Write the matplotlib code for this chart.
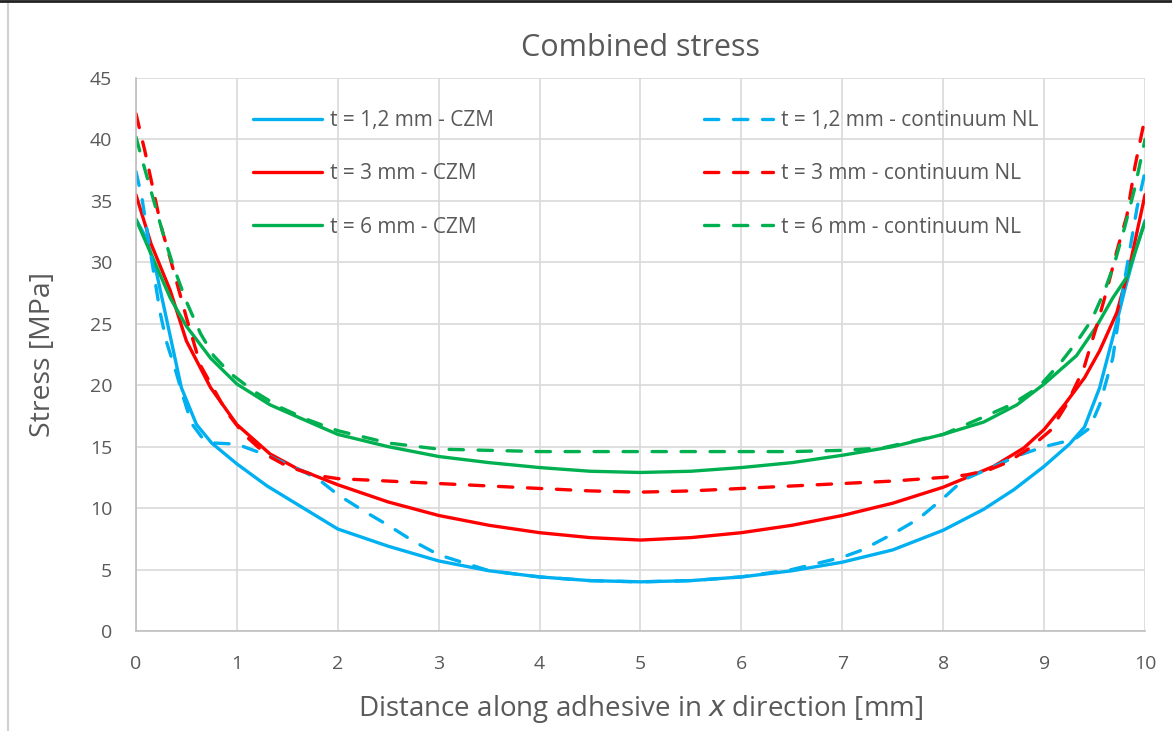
import matplotlib.pyplot as plt
from matplotlib.lines import Line2D

# Data (x in mm, stress in MPa)
x_b_czm = [0, 0.1, 0.2, 0.3, 0.45, 0.6, 0.75, 1.0, 1.3, 1.6, 2.0, 2.5, 3.0, 3.5, 4.0, 4.5, 5.0,
           5.5, 6.0, 6.5, 7.0, 7.5, 8.0, 8.4, 8.7, 9.0, 9.25, 9.4, 9.55, 9.7, 9.8, 9.9, 10]
y_b_czm = [33.5, 32.0, 29.3, 25.5, 19.8, 16.8, 15.3, 13.6, 11.8, 10.3, 8.3, 6.9, 5.7, 4.9, 4.4, 4.1, 4.0,
           4.1, 4.4, 4.9, 5.6, 6.6, 8.2, 9.9, 11.5, 13.4, 15.2, 16.6, 19.8, 24.5, 27.8, 30.8, 33.4]

x_b_nl = [0, 0.06, 0.15, 0.24, 0.3, 0.4, 0.47, 0.55, 0.65, 0.77, 1.0, 1.3, 1.6, 1.8, 2.0, 2.25, 2.5,
          2.75, 3.0, 3.5, 4.0, 4.5, 5.0, 5.5, 6.0, 6.5, 7.0, 7.2, 7.5, 7.75, 8.0, 8.2, 8.45, 8.75,
          9.0, 9.3, 9.45, 9.55, 9.68, 9.78, 9.92, 10]
y_b_nl = [37.4, 35.2, 30.5, 25.9, 23.6, 21.0, 19.0, 16.9, 15.8, 15.3, 15.2, 14.3, 13.2, 12.4, 11.1, 9.8, 8.6,
          7.3, 6.2, 4.9, 4.4, 4.1, 4.0, 4.1, 4.4, 5.0, 6.0, 6.6, 7.9, 9.1, 10.8, 12.3, 13.2, 14.3,
          15.0, 15.6, 16.5, 18.4, 22.2, 27.7, 34.4, 37.4]

x_r_czm = [0, 0.15, 0.34, 0.5, 0.74, 1.0, 1.33, 1.6, 2.0, 2.5, 3.0, 3.5, 4.0, 4.5, 5.0, 5.5, 6.0,
           6.5, 7.0, 7.5, 8.0, 8.5, 8.8, 9.0, 9.2, 9.4, 9.55, 9.72, 9.85, 10]
y_r_czm = [35.5, 31.5, 27.7, 23.6, 19.8, 16.8, 14.4, 13.2, 11.9, 10.5, 9.4, 8.6, 8.0, 7.6, 7.4, 7.6, 8.0,
           8.6, 9.4, 10.4, 11.7, 13.4, 14.9, 16.4, 18.4, 20.6, 22.8, 25.9, 29.8, 35.5]

x_r_nl = [0, 0.09, 0.25, 0.34, 0.5, 0.64, 0.9, 1.07, 1.3, 1.5, 1.76, 2.0, 2.5, 3.0, 3.5, 4.0, 4.5,
          5.0, 5.5, 6.0, 6.5, 7.0, 7.5, 8.0, 8.23, 8.45, 8.63, 8.86, 9.06, 9.22, 9.39, 9.52, 9.62,
          9.72, 9.82, 9.9, 10]
y_r_nl = [42.1, 39.0, 32.9, 30.3, 25.5, 21.6, 17.8, 16.0, 14.3, 13.4, 12.7, 12.4, 12.2, 12.0, 11.8, 11.6, 11.4,
          11.3, 11.4, 11.6, 11.8, 12.0, 12.2, 12.5, 12.7, 13.1, 13.7, 14.9, 16.3, 18.4, 21.3, 24.8, 27.7,
          30.9, 33.8, 37.8, 41.8]

x_g_czm = [0, 0.17, 0.34, 0.5, 0.74, 1.0, 1.33, 1.83, 2.0, 2.5, 3.0, 3.5, 4.0, 4.5, 5.0, 5.5, 6.0,
           6.5, 7.0, 7.5, 8.0, 8.4, 8.73, 9.0, 9.32, 9.52, 9.68, 9.82, 10]
y_g_czm = [33.5, 30.3, 27.1, 24.8, 22.2, 20.1, 18.4, 16.6, 16.0, 15.0, 14.2, 13.7, 13.3, 13.0, 12.9, 13.0, 13.3,
           13.7, 14.3, 15.0, 16.0, 17.0, 18.4, 20.1, 22.4, 24.8, 27.1, 28.8, 33.3]

x_g_nl = [0, 0.07, 0.17, 0.27, 0.37, 0.5, 0.64, 0.77, 0.93, 1.17, 1.43, 1.7, 2.0, 2.5, 3.0, 3.5, 4.0,
          4.5, 5.0, 5.5, 6.0, 6.5, 7.0, 7.4, 8.0, 8.34, 8.67, 8.94, 9.17, 9.33, 9.47, 9.6, 9.7, 9.8, 9.9, 10]
y_g_nl = [40.2, 38.1, 35.2, 32.3, 29.7, 26.8, 24.2, 22.4, 21.0, 19.5, 18.2, 17.2, 16.3, 15.3, 14.8, 14.7, 14.6,
          14.6, 14.6, 14.6, 14.6, 14.6, 14.7, 14.9, 16.0, 17.2, 18.4, 19.8, 21.9, 23.6, 25.3, 27.7, 30.0, 32.9, 36.1, 40.0]

labels_czm = ['t = 1,2 mm - CZM', 't = 3 mm - CZM', 't = 6 mm - CZM']
labels_nl = ['t = 1,2 mm - continuum NL', 't = 3 mm - continuum NL', 't = 6 mm - continuum NL']

blue, red, green = '#00B0F0', '#FF0000', '#00B050'
txt = '#595959'

plt.rcParams['font.family'] = ['Open Sans', 'DejaVu Sans']

fig = plt.figure(figsize=(11.72, 7.31), dpi=100)
ax = fig.add_axes([0.116, 0.1368, 0.861, 0.7565])

lw = 2.4
dash = (4.3, 4.4)
czm = [(x_b_czm, y_b_czm, blue), (x_r_czm, y_r_czm, red), (x_g_czm, y_g_czm, green)]
nl = [(x_b_nl, y_b_nl, blue), (x_r_nl, y_r_nl, red), (x_g_nl, y_g_nl, green)]

for (x, y, c), lab in zip(czm, labels_czm):
    ax.plot(x, y, color=c, lw=lw, label=lab, solid_capstyle='round', solid_joinstyle='round')
for (x, y, c), lab in zip(nl, labels_nl):
    ax.plot(x, y, color=c, lw=lw, label=lab, dashes=dash, dash_capstyle='round')

ax.set_xlim(0, 10)
ax.set_ylim(0, 45)
ax.set_xticks(range(0, 11))
ax.set_yticks(range(0, 46, 5))
ax.grid(True, color='#D9D9D9', lw=1.2)
ax.set_axisbelow(True)
for s in ['top', 'right']:
    ax.spines[s].set_visible(False)
for s in ['left', 'bottom']:
    ax.spines[s].set_color('#BFBFBF')
    ax.spines[s].set_linewidth(1.2)
ax.tick_params(length=0, labelsize=14, labelcolor=txt)
ax.tick_params(axis='x', pad=17)
ax.tick_params(axis='y', pad=17)

ax.set_xlabel('Distance along adhesive in $\\it{x}$ direction [mm]', fontsize=20, color=txt, labelpad=15)
ax.set_ylabel('Stress [MPa]', fontsize=20.5, color=txt, labelpad=24)
ax.set_title('Combined stress', fontsize=22, color=txt, pad=16)

leg = ax.legend(ncol=2, loc='upper left', bbox_to_anchor=(0.116, 0.942), frameon=False,
                fontsize=15, handlelength=3.3, handletextpad=0.4, columnspacing=10.1,
                labelspacing=1.55, borderaxespad=0, borderpad=0)
for t in leg.get_texts():
    t.set_color(txt)

# chart border remnants
fig.add_artist(Line2D([0.007, 0.007], [0, 1], color='#D0D0D0', lw=1.5))
fig.add_artist(Line2D([0, 1], [0.999, 0.999], color='#222222', lw=2))

plt.savefig('out.png', dpi=100)
